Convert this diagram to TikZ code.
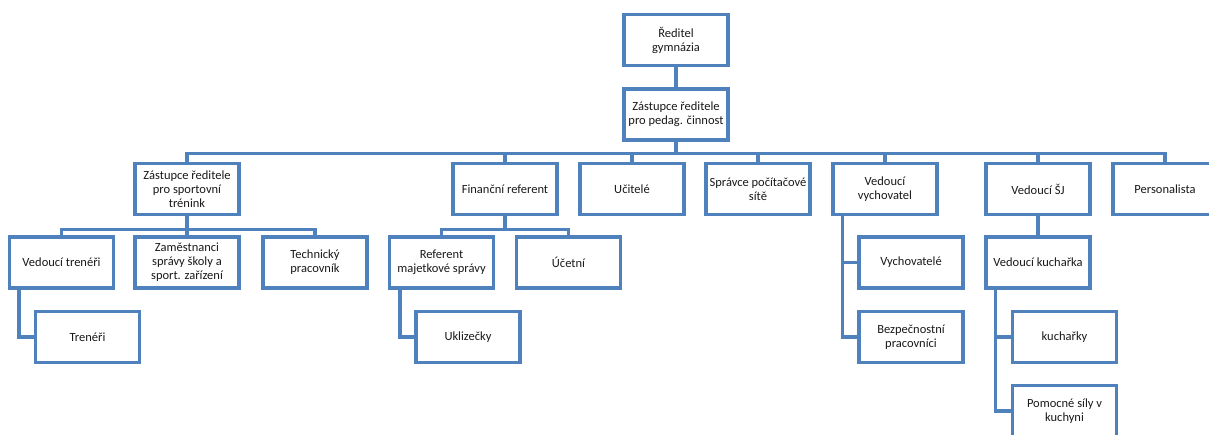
\documentclass[tikz,border=0pt]{standalone}
\usepackage{fontspec}
\setmainfont{Carlito}
\usetikzlibrary{calc}
\definecolor{obl}{HTML}{4F81BD}
\begin{document}
\begin{tikzpicture}[x=1pt,y=-1pt,
  box/.style={draw=obl, line width=3.2pt, fill=white, minimum width=104pt, minimum height=51pt, inner sep=1pt, align=center, font=\fontsize{12.5}{14}\selectfont, text=black!90},
  link/.style={draw=obl, line width=3.2pt}]
\useasboundingbox (0,0) rectangle (1209,434);
\node[box] (rg) at (676,40) {Ředitel\\gymnázia};
\node[box] (zp) at (676,114.5) {Zástupce ředitele\\pro pedag. činnost};
\node[box] (zs) at (187,189) {Zástupce ředitele\\pro sportovní\\trénink};
\node[box] (fr) at (505,189) {Finanční referent};
\node[box] (uc) at (632,189) {Učitelé};
\node[box] (sp) at (758,189) {Správce počítačové\\sítě};
\node[box] (vv) at (885,189) {Vedoucí\\vychovatel};
\node[box] (sj) at (1038,189) {Vedoucí ŠJ};
\node[box] (pe) at (1165,189) {Personalista};
\node[box] (vt) at (61.5,262.5) {Vedoucí trenéři};
\node[box] (zm) at (187,262.5) {Zaměstnanci\\správy školy a\\sport. zařízení};
\node[box] (tp) at (315,262.5) {Technický\\pracovník};
\node[box] (rm) at (441.5,262.5) {Referent\\majetkové správy};
\node[box] (ue) at (568.5,262.5) {Účetní};
\node[box] (vy) at (911,262.5) {Vychovatelé};
\node[box] (vk) at (1038,262.5) {Vedoucí kuchařka};
\node[box] (tr) at (87.5,337) {Trenéři};
\node[box] (uk) at (468,337) {Uklizečky};
\node[box] (bp) at (911,337) {Bezpečnostní\\pracovníci};
\node[box] (ku) at (1064.5,337) {kuchařky};
\node[box] (ps) at (1064.5,411) {Pomocné síly v\\kuchyni};
\draw[link] (rg) -- (zp);
\foreach \c in {zs,fr,uc,sp,vv,sj,pe} \draw[link] (zp.south) -- ++(0,12) -| (\c.north);
\foreach \c in {vt,zm,tp} \draw[link] (zs.south) -- ++(0,13) -| (\c.north);
\foreach \c in {rm,ue} \draw[link] (fr.south) -- ++(0,13) -| (\c.north);
\draw[link] ($(vt.south west)+(11,0)$) |- (tr.west);
\draw[link] ($(rm.south west)+(12,0)$) |- (uk.west);
\foreach \c in {vy,bp} \draw[link] ($(vv.south west)+(11,0)$) |- (\c.west);
\draw[link] (sj) -- (vk);
\foreach \c in {ku,ps} \draw[link] ($(vk.south west)+(11,0)$) |- (\c.west);
\end{tikzpicture}
\end{document}
